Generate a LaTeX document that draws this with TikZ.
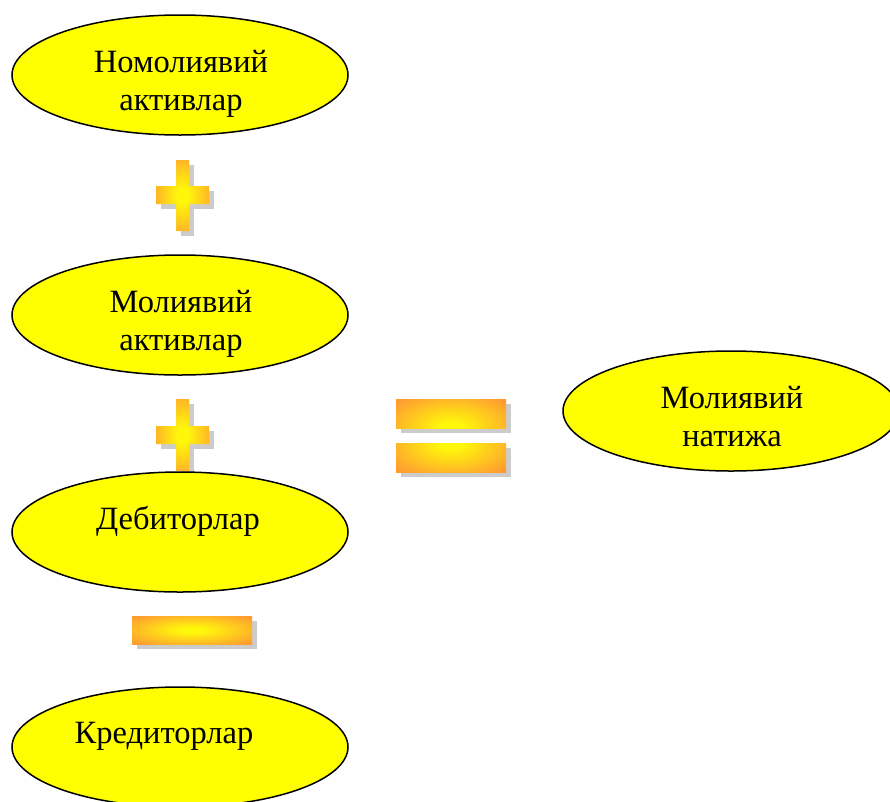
\documentclass[tikz,border=0pt]{standalone}
\usepackage{fontspec}
\setmainfont{Liberation Serif}
\usetikzlibrary{shapes.geometric}
\definecolor{ellfill}{HTML}{FFFF00}
\definecolor{opor}{HTML}{FF9933}
\definecolor{opyel}{HTML}{FFF70A}
\definecolor{shad}{HTML}{CCCCCC}
\pgfdeclareradialshading{opshade}{\pgfpoint{0bp}{0bp}}{color(0bp)=(opyel); color(5bp)=(opyel); color(34bp)=(opor); color(50bp)=(opor)}
\tikzset{
  oval/.style={ellipse, draw=black, line width=1.5pt, fill=ellfill, minimum width=336pt, minimum height=120pt, inner sep=0pt},
  lbl/.style={font=\fontsize{32.5}{38}\selectfont, align=center, text=black, inner sep=0pt},
  opfill/.style={shading=opshade},
  opshadow/.style={fill=shad}
}
\begin{document}
\begin{tikzpicture}[x=1pt,y=-1pt]
\useasboundingbox (0,0) rectangle (890,801);
% plus 1
\fill[opshadow] (181,165) rectangle (194,236);
\fill[opshadow] (161,191) rectangle (214,209);
\shade[opfill] (176,160) -- (189,160) -- (189,186) -- (209,186) -- (209,204) -- (189,204) -- (189,231) -- (176,231) -- (176,204) -- (156,204) -- (156,186) -- (176,186) -- cycle;
% plus 2
\fill[opshadow] (181,404) rectangle (194,476);
\fill[opshadow] (161,431) rectangle (214,449);
\shade[opfill] (176,399) -- (189,399) -- (189,426) -- (209,426) -- (209,444) -- (189,444) -- (189,471) -- (176,471) -- (176,444) -- (156,444) -- (156,426) -- (176,426) -- cycle;
% equals
\fill[opshadow] (401,404) rectangle (511,433);
\fill[opshadow] (401,448) rectangle (511,477);
\begin{scope}
\clip (396,399) rectangle (506,428);
\shade[opfill] (396,399) rectangle (506,457);
\end{scope}
\begin{scope}
\clip (396,443) rectangle (506,472);
\shade[opfill] (396,414) rectangle (506,472);
\end{scope}
% minus
\fill[opshadow] (137,621) rectangle (257,649);
\shade[opfill] (132,616) rectangle (252,644);
% ellipses
\node[oval] (e1) at (180,75) {};
\node[oval] (e2) at (180,315) {};
\node[oval] (e3) at (180,532) {};
\node[oval] (e4) at (180,747) {};
\node[oval] (e5) at (731,411) {};
\node[lbl] (t1) at (181,84) {Номолиявий\\активлар};
\node[lbl] (t2) at (181,324) {Молиявий\\активлар};
\node[lbl] (t3) at (178,521) {Дебиторлар};
\node[lbl] (t4) at (164,736) {Кредиторлар};
\node[lbl] (t5) at (732,417) {Молиявий\\натижа};
\end{tikzpicture}
\end{document}
